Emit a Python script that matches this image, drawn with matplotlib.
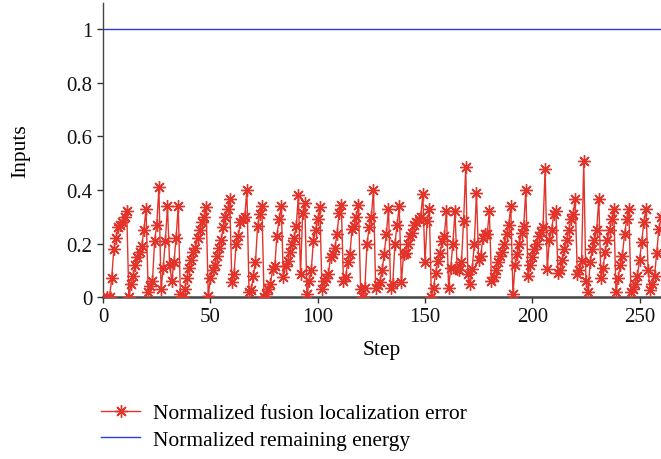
import matplotlib
matplotlib.use('Agg')
import matplotlib.pyplot as plt
import numpy as np

# Step axis for the localization error curve (first point at step 2)
steps = np.arange(2, 261)

error_vals = [
    0.00, 0.00, 0.07, 0.18, 0.22, 0.26, 0.27, 0.28, 0.30, 0.32,            # 2-11
    0.00, 0.05, 0.08, 0.12, 0.15, 0.17, 0.19, 0.25, 0.33,                  # 12-20
    0.02, 0.04, 0.06, 0.21, 0.27, 0.41,                                    # 21-26
    0.03, 0.11, 0.21, 0.34,                                                # 27-30
    0.12, 0.06, 0.13, 0.22, 0.34,                                          # 31-35
    0.01, 0.00, 0.03, 0.07, 0.11, 0.14, 0.17, 0.185, 0.22, 0.25, 0.28, 0.30, 0.335,  # 36-48
    0.005, 0.07, 0.10, 0.12, 0.155, 0.185, 0.215, 0.26, 0.30, 0.33, 0.365, # 49-59
    0.055, 0.085, 0.20, 0.23, 0.28, 0.29, 0.30, 0.40,                      # 60-67
    0.02, 0.025, 0.08, 0.13, 0.265, 0.31, 0.34,                            # 68-74
    0.00, 0.01, 0.03, 0.05, 0.105, 0.115, 0.23, 0.29, 0.34,                # 75-83
    0.075, 0.115, 0.135, 0.17, 0.20, 0.22, 0.265, 0.38,                    # 84-91
    0.085, 0.315, 0.35,                                                    # 92-94
    0.01, 0.06, 0.10, 0.21, 0.25, 0.29, 0.335,                             # 95-101
    0.03, 0.06, 0.07, 0.085, 0.15, 0.16, 0.185, 0.235, 0.315, 0.345,       # 102-111
    0.06, 0.075, 0.13, 0.16, 0.255, 0.265, 0.30, 0.345,                    # 112-119
    0.03, 0.00, 0.035, 0.20, 0.26, 0.30, 0.40,                             # 120-126
    0.035, 0.045, 0.055, 0.10, 0.16, 0.235, 0.33,                          # 127-133
    0.035, 0.05, 0.20, 0.27, 0.34,                                         # 134-138
    0.055, 0.16, 0.165, 0.20, 0.23, 0.24, 0.27, 0.28, 0.29, 0.30, 0.385,   # 139-149
    0.13, 0.285, 0.33,                                                     # 150-152
    0.00, 0.035, 0.09, 0.135, 0.165, 0.21, 0.23, 0.32,                     # 153-160
    0.035, 0.11, 0.20, 0.32,                                               # 161-164
    0.105, 0.10, 0.13, 0.285, 0.485,                                       # 165-169
    0.085, 0.05, 0.105, 0.20, 0.39,                                        # 170-174
    0.14, 0.155, 0.22, 0.235, 0.235, 0.32,                                 # 175-180
    0.06, 0.075, 0.10, 0.13, 0.155, 0.17, 0.20, 0.235, 0.27, 0.34,         # 181-190
    0.01, 0.12, 0.16, 0.20, 0.24, 0.265, 0.40,                             # 191-197
    0.08, 0.12, 0.15, 0.18, 0.20, 0.23, 0.245, 0.26, 0.48,                 # 198-206
    0.105, 0.215, 0.25, 0.31, 0.32,                                        # 207-211
    0.09, 0.10, 0.14, 0.18, 0.215, 0.25, 0.29, 0.31, 0.365,                # 212-220
    0.085, 0.10, 0.135, 0.51,                                              # 221-224
    0.06, 0.02, 0.13, 0.18, 0.215, 0.25, 0.365,                            # 225-231
    0.07, 0.11, 0.17, 0.215, 0.25, 0.29, 0.33,                             # 232-238
    0.02, 0.07, 0.12, 0.155, 0.235, 0.29, 0.33,                            # 239-245
    0.02, 0.03, 0.05, 0.08, 0.14, 0.205, 0.28, 0.33,                       # 246-253
    0.10, 0.025, 0.05, 0.08, 0.165, 0.255, 0.30,                           # 254-260
]

energy_steps = [0, 270]
energy_vals = [1, 1]

yticks = [0, 0.2, 0.4, 0.6, 0.8, 1]
ytick_labels = ['0', '0.2', '0.4', '0.6', '0.8', '1']
xticks = [0, 50, 100, 150, 200, 250]

plt.rcParams['font.family'] = ['Liberation Serif', 'DejaVu Serif']

fig = plt.figure(figsize=(6.61, 4.60), dpi=100)
ax = fig.add_axes([0.156, 0.352, 0.844, 0.640])

red = '#e2342a'
blue = '#2a3ddc'
ax.plot(steps, error_vals, color=red, lw=1.0, marker=(8, 2, 0), ms=9,
        mew=1.0, label='Normalized fusion localization error', zorder=3)
ax.plot(energy_steps, energy_vals, color=blue, lw=1.0,
        label='Normalized remaining energy', zorder=2)

ax.set_xlim(0, 260)
ax.set_ylim(0, 1.1)
ax.set_yticks(yticks)
ax.set_yticklabels(ytick_labels)
ax.set_xticks(xticks)
ax.tick_params(labelsize=15, direction='out', length=4, width=1, colors='#333333',
               labelcolor='#111111')
ax.spines['right'].set_visible(False)
ax.spines['top'].set_visible(False)
for s in ['left', 'bottom']:
    ax.spines[s].set_color('#444444')
ax.spines['bottom'].set_linewidth(1.8)
ax.spines['left'].set_linewidth(1.0)
ax.set_xlabel('Step', fontsize=15.5, labelpad=10)
ax.set_ylabel('Inputs', fontsize=15.5, labelpad=26)

leg = fig.legend(loc='upper left', bbox_to_anchor=(0.14, 0.14), frameon=False,
                 fontsize=15.5, handlelength=1.8, handletextpad=0.6,
                 labelspacing=0.3, borderaxespad=0)

fig.savefig('out.png', dpi=100)
